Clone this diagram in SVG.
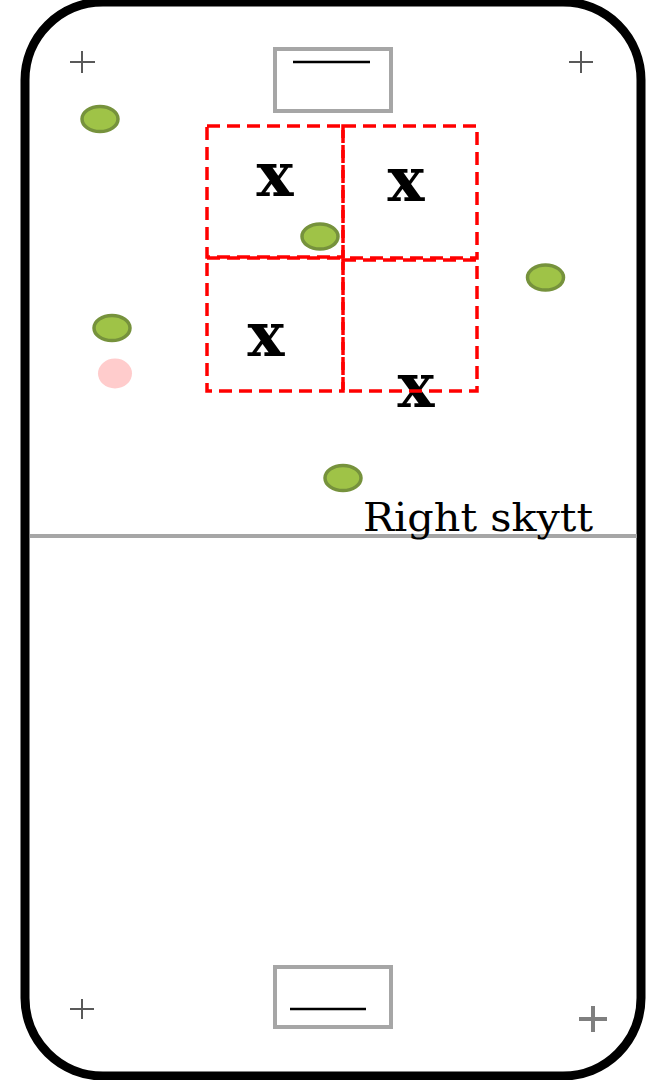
<svg xmlns="http://www.w3.org/2000/svg" width="646" height="1080" viewBox="0 0 646 1080">
  <style>
    .board { fill: #ffffff; stroke: #000000; stroke-width: 9; }
    .cross { stroke: #595959; stroke-width: 2; }
    .goal { fill: #ffffff; stroke: #a6a6a6; stroke-width: 4; }
    .goalline { stroke: #000000; stroke-width: 2.5; }
    .midline { stroke: #a6a6a6; stroke-width: 4; }
    .zone { fill: none; stroke: #ff0000; stroke-width: 3.5; stroke-dasharray: 13 7; }
    .player { fill: #9fc347; stroke: #76923c; stroke-width: 3.5; }
    .ball { fill: #ffcccc; }
    .mark { font-family: "DejaVu Serif", "Liberation Serif", serif; font-weight: bold; font-size: 62px; fill: #000000; text-anchor: middle; }
    .label { font-family: "DejaVu Serif", "Liberation Serif", serif; font-size: 39px; fill: #000000; }
  </style>

  <!-- rink outline -->
  <g id="rink">
    <rect class="board" x="25" y="2" width="616" height="1074" rx="78" ry="78"/>
    <line class="midline" x1="30" y1="536" x2="637" y2="536"/>
  </g>

  <!-- corner face-off crosses -->
  <g id="crosses">
    <path class="cross" d="M70 62H95M82 51V73"/>
    <path class="cross" d="M569 62H593M581 51V73"/>
    <path class="cross" d="M70 1009H94M82 999V1019"/>
    <path class="cross" style="stroke:#7f7f7f;stroke-width:4" d="M579 1019H607M593 1006V1032"/>
  </g>

  <!-- goals -->
  <g id="goal-top">
    <rect class="goal" x="275" y="49" width="116" height="62"/>
    <line class="goalline" x1="293" y1="62" x2="370" y2="62"/>
  </g>
  <g id="goal-bottom">
    <rect class="goal" x="275" y="967" width="116" height="60"/>
    <line class="goalline" x1="290" y1="1009" x2="366" y2="1009"/>
  </g>

  <!-- defenders -->
  <g id="marks">
    <text class="mark" x="275" y="196">x</text>
    <text class="mark" x="406" y="201">x</text>
    <text class="mark" x="266" y="356">x</text>
    <text class="mark" x="416" y="407">x</text>
  </g>

  <!-- dashed zones in front of goal -->
  <g id="zones">
    <rect class="zone" x="207" y="126" width="136" height="131"/>
    <rect class="zone" x="343" y="126" width="134" height="132"/>
    <rect class="zone" x="207" y="258" width="136" height="133"/>
    <rect class="zone" x="343" y="260" width="134" height="131"/>
  </g>

  <!-- players -->
  <g id="player-1"><ellipse class="player" cx="100" cy="119" rx="18" ry="12.5"/></g>
  <g id="player-2"><ellipse class="player" cx="320" cy="236.5" rx="18" ry="12.5"/></g>
  <g id="player-3"><ellipse class="player" cx="112" cy="328" rx="18" ry="12.5"/></g>
  <g id="player-4"><ellipse class="player" cx="545.5" cy="277.5" rx="18" ry="12.5"/></g>
  <g id="player-5"><ellipse class="player" cx="343" cy="478" rx="18" ry="12.5"/></g>

  <!-- ball -->
  <g id="ball"><ellipse class="ball" cx="115" cy="373.5" rx="17" ry="15"/></g>

  <!-- label -->
  <g id="label-right-skytt">
    <text class="label" x="363" y="531" textLength="230" lengthAdjust="spacingAndGlyphs">Right skytt</text>
  </g>
</svg>
